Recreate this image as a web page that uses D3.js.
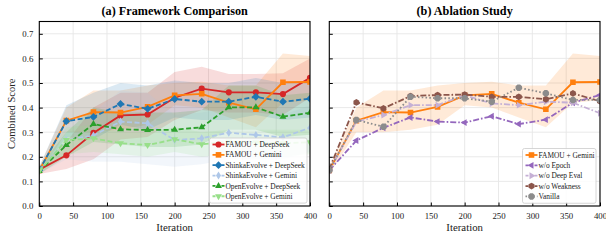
<!DOCTYPE html>
<html>
<head>
<meta charset="utf-8">
<script src="https://cdn.jsdelivr.net/npm/d3@7"></script>
<style>
  body { margin: 0; background: #fff; }
</style>
</head>
<body>
<script>
// iterations shared by every series
var iterations = [0, 40, 80, 120, 160, 200, 240, 280, 320, 360, 400];
var xTicks = [0, 50, 100, 150, 200, 250, 300, 350, 400];
var yTicks = [0.0, 0.1, 0.2, 0.3, 0.4, 0.5, 0.6, 0.7];

// (a) framework comparison
var famouDeepSeek   = [0.148, 0.206, 0.297, 0.368, 0.372, 0.440, 0.477, 0.462, 0.462, 0.455, 0.521];
var famouGemini     = [0.145, 0.347, 0.382, 0.380, 0.403, 0.450, 0.456, 0.420, 0.393, 0.503, 0.504];
var shinkaDeepSeek  = [0.145, 0.345, 0.362, 0.415, 0.395, 0.435, 0.424, 0.424, 0.444, 0.424, 0.436];
var shinkaGemini    = [0.145, 0.268, 0.287, 0.343, 0.336, 0.268, 0.275, 0.298, 0.289, 0.279, 0.318];
var openDeepSeek    = [0.142, 0.248, 0.333, 0.312, 0.309, 0.310, 0.320, 0.401, 0.401, 0.363, 0.379];
var openGemini      = [0.142, 0.268, 0.275, 0.255, 0.248, 0.271, 0.251, 0.262, 0.258, 0.255, 0.259];

// shaded ranges
var famouDeepSeekLo  = [0.13, 0.15, 0.19, 0.27, 0.28, 0.35, 0.39, 0.38, 0.38, 0.37, 0.44];
var famouDeepSeekHi  = [0.16, 0.26, 0.40, 0.46, 0.46, 0.545, 0.566, 0.537, 0.537, 0.54, 0.60];
var famouGeminiLo    = [0.13, 0.30, 0.30, 0.31, 0.33, 0.41, 0.40, 0.36, 0.32, 0.42, 0.43];
var famouGeminiHi    = [0.16, 0.40, 0.47, 0.47, 0.49, 0.50, 0.505, 0.49, 0.49, 0.62, 0.61];
var shinkaDeepSeekLo = [0.13, 0.28, 0.27, 0.33, 0.31, 0.36, 0.35, 0.35, 0.37, 0.35, 0.36];
var shinkaDeepSeekHi = [0.16, 0.41, 0.46, 0.50, 0.49, 0.51, 0.50, 0.50, 0.52, 0.50, 0.51];
var shinkaGeminiLo   = [0.13, 0.19, 0.18, 0.18, 0.17, 0.16, 0.17, 0.19, 0.19, 0.19, 0.22];
var shinkaGeminiHi   = [0.16, 0.34, 0.38, 0.47, 0.46, 0.37, 0.38, 0.40, 0.39, 0.37, 0.41];
var openDeepSeekLo   = [0.13, 0.20, 0.26, 0.25, 0.24, 0.24, 0.25, 0.31, 0.31, 0.28, 0.29];
var openDeepSeekHi   = [0.16, 0.30, 0.40, 0.38, 0.38, 0.38, 0.39, 0.49, 0.49, 0.45, 0.46];
var openGeminiLo     = [0.13, 0.21, 0.22, 0.21, 0.20, 0.22, 0.20, 0.21, 0.21, 0.20, 0.21];
var openGeminiHi     = [0.16, 0.32, 0.33, 0.30, 0.30, 0.32, 0.30, 0.31, 0.31, 0.31, 0.31];

// (b) ablation study
var woEpoch     = [0.145, 0.266, 0.318, 0.360, 0.343, 0.339, 0.365, 0.333, 0.351, 0.420, 0.451];
var woDeepEval  = [0.145, 0.343, 0.370, 0.410, 0.410, 0.450, 0.417, 0.410, 0.424, 0.420, 0.377];
var woWeakness  = [0.150, 0.421, 0.397, 0.447, 0.451, 0.453, 0.444, 0.444, 0.434, 0.458, 0.426];
var vanilla     = [0.145, 0.350, 0.322, 0.444, 0.438, 0.438, 0.424, 0.481, 0.458, 0.431, 0.431];

var width = 606, height = 241;
var serif = "'Liberation Serif'";

var svg = d3.select("body").append("svg")
  .attr("width", width)
  .attr("height", height)
  .style("font-family", serif);

// marker shapes
function poly(n, r, rot) {
  var pts = [];
  for (var i = 0; i < n; i++) {
    var a = rot + i * 2 * Math.PI / n;
    pts.push([r * Math.cos(a), r * Math.sin(a)]);
  }
  return "M" + pts.map(function(p) { return p[0].toFixed(2) + "," + p[1].toFixed(2); }).join("L") + "Z";
}
var shapes = {
  circle: d3.symbol().type(d3.symbolCircle).size(30)(),
  square: "M-2.8,-2.8L2.8,-2.8L2.8,2.8L-2.8,2.8Z",
  diamond: "M0,-3.9L3.9,0L0,3.9L-3.9,0Z",
  thindiamond: "M0,-4L2.5,0L0,4L-2.5,0Z",
  up: poly(3, 4, -Math.PI / 2),
  down: poly(3, 4, Math.PI / 2),
  left: poly(3, 4, Math.PI),
  right: poly(3, 4, 0),
  hexagon: poly(6, 3.4, -Math.PI / 2),
  octagon: poly(8, 3.5, Math.PI / 8)
};

var dashes = {
  solid: null,
  dashed: "5,2.5",
  dashdot: "6,2,1.6,2",
  dotted: "1.6,2.2"
};

var seriesA = [
  {name: "FAMOU + DeepSeek", values: famouDeepSeek, lo: famouDeepSeekLo, hi: famouDeepSeekHi, color: "#d62728", dash: "solid", marker: "circle"},
  {name: "FAMOU + Gemini", values: famouGemini, lo: famouGeminiLo, hi: famouGeminiHi, color: "#ff7f0e", dash: "solid", marker: "square"},
  {name: "ShinkaEvolve + DeepSeek", values: shinkaDeepSeek, lo: shinkaDeepSeekLo, hi: shinkaDeepSeekHi, color: "#1f77b4", dash: "dashed", marker: "diamond"},
  {name: "ShinkaEvolve + Gemini", values: shinkaGemini, lo: shinkaGeminiLo, hi: shinkaGeminiHi, color: "#aec7e8", dash: "dashed", marker: "thindiamond"},
  {name: "OpenEvolve + DeepSeek", values: openDeepSeek, lo: openDeepSeekLo, hi: openDeepSeekHi, color: "#2ca02c", dash: "dashed", marker: "up"},
  {name: "OpenEvolve + Gemini", values: openGemini, lo: openGeminiLo, hi: openGeminiHi, color: "#98df8a", dash: "dashed", marker: "down"}
];

var seriesB = [
  {name: "FAMOU + Gemini", values: famouGemini, lo: famouGeminiLo, hi: famouGeminiHi, color: "#ff7f0e", dash: "solid", marker: "square"},
  {name: "w/o Epoch", values: woEpoch, color: "#9467bd", dash: "dashdot", marker: "left"},
  {name: "w/o Deep Eval", values: woDeepEval, color: "#c5b0d5", dash: "dashdot", marker: "right"},
  {name: "w/o Weakness", values: woWeakness, color: "#8c564b", dash: "dashdot", marker: "hexagon"},
  {name: "Vanilla", values: vanilla, color: "#8c8c8c", dash: "dotted", marker: "octagon"}
];

var y = d3.scaleLinear().domain([0, 0.75]).range([206, 21.5]);

function drawPanel(left, right, title, series, showYLabels, legend) {
  var x = d3.scaleLinear().domain([0, 400]).range([left, right]);
  var g = svg.append("g");

  var clipId = "clip" + Math.round(left);
  g.append("clipPath").attr("id", clipId)
    .append("rect")
    .attr("x", left).attr("y", y(0.75))
    .attr("width", right - left).attr("height", y(0) - y(0.75));

  // grid
  g.append("g").selectAll("line").data(xTicks).enter().append("line")
    .attr("x1", function(d) { return x(d); }).attr("x2", function(d) { return x(d); })
    .attr("y1", y(0)).attr("y2", y(0.75))
    .attr("stroke", "#e6e6e6").attr("stroke-width", 0.9);
  g.append("g").selectAll("line").data(yTicks).enter().append("line")
    .attr("x1", left).attr("x2", right)
    .attr("y1", function(d) { return y(d); }).attr("y2", function(d) { return y(d); })
    .attr("stroke", "#e6e6e6").attr("stroke-width", 0.9);

  var plot = g.append("g").attr("clip-path", "url(#" + clipId + ")");

  // bands
  series.forEach(function(s) {
    if (!s.lo) return;
    var area = d3.area()
      .x(function(d, i) { return x(iterations[i]); })
      .y0(function(d, i) { return y(s.lo[i]); })
      .y1(function(d, i) { return y(s.hi[i]); });
    plot.append("path")
      .datum(s.values)
      .attr("d", area)
      .attr("fill", s.color)
      .attr("fill-opacity", 0.16);
  });

  // lines + markers
  var line = d3.line()
    .x(function(d, i) { return x(iterations[i]); })
    .y(function(d) { return y(d); });

  series.forEach(function(s) {
    plot.append("path")
      .datum(s.values)
      .attr("d", line)
      .attr("fill", "none")
      .attr("stroke", s.color)
      .attr("stroke-width", 1.8)
      .attr("stroke-dasharray", dashes[s.dash]);
    plot.append("g").selectAll("path")
      .data(s.values)
      .enter()
    .append("path")
      .attr("d", shapes[s.marker])
      .attr("transform", function(d, i) { return "translate(" + x(iterations[i]) + "," + y(d) + ")"; })
      .attr("fill", s.color);
  });

  // frame
  g.append("rect")
    .attr("x", left).attr("y", y(0.75))
    .attr("width", right - left).attr("height", y(0) - y(0.75))
    .attr("fill", "none").attr("stroke", "#000").attr("stroke-width", 1.1);

  // axes with inward ticks
  var xAxis = d3.axisBottom(x).tickValues(xTicks).tickSize(-3.5).tickPadding(7).tickFormat(d3.format("d"));
  var ax = g.append("g").attr("transform", "translate(0," + y(0) + ")").call(xAxis)
    .attr("font-family", serif);
  ax.select(".domain").remove();
  ax.selectAll("text").attr("font-size", 8.8).attr("fill", "#222").style("font-family", serif);

  var yAxis = d3.axisLeft(y).tickValues(yTicks).tickSize(-3.5).tickPadding(6)
    .tickFormat(showYLabels ? d3.format(".1f") : "");
  var ay = g.append("g").attr("transform", "translate(" + left + ",0)").call(yAxis)
    .attr("font-family", serif);
  ay.select(".domain").remove();
  ay.selectAll("text").attr("font-size", 8.8).attr("fill", "#222").style("font-family", serif);

  g.append("text")
    .attr("x", (left + right) / 2).attr("y", 15)
    .attr("text-anchor", "middle")
    .attr("font-size", 12.2).attr("font-weight", "bold")
    .style("font-family", serif)
    .text(title);

  g.append("text")
    .attr("x", (left + right) / 2).attr("y", 231)
    .attr("text-anchor", "middle")
    .attr("font-size", 10.8)
    .attr("fill", "#222")
    .style("font-family", serif)
    .text("Iteration");

  // legend
  var lg = g.append("g");
  var rowH = 10.35;
  lg.append("rect")
    .attr("x", legend.x).attr("y", legend.y)
    .attr("width", legend.w).attr("height", series.length * rowH + 3)
    .attr("rx", 2)
    .attr("fill", "#fff").attr("fill-opacity", 0.85)
    .attr("stroke", "#cccccc").attr("stroke-width", 0.8);
  var item = lg.selectAll(".item")
    .data(series)
    .enter()
  .append("g")
    .attr("class", "item")
    .attr("transform", function(d, i) { return "translate(" + legend.x + "," + (legend.y + 6.5 + i * rowH) + ")"; });
  item.append("line")
    .attr("x1", 3).attr("x2", 15)
    .attr("stroke", function(d) { return d.color; })
    .attr("stroke-width", 1.8)
    .attr("stroke-dasharray", function(d) { return d.dash === "solid" ? null : (d.dash === "dotted" ? "1.6,2.2" : "3,1.5"); });
  item.append("path")
    .attr("d", function(d) { return shapes[d.marker]; })
    .attr("transform", "translate(9,0)")
    .attr("fill", function(d) { return d.color; });
  item.append("text")
    .attr("x", 16).attr("y", 2.6)
    .attr("font-size", 7.4)
    .attr("fill", "#222")
    .style("font-family", serif)
    .text(function(d) { return d.name; });
}

drawPanel(39.3, 310, "(a) Framework Comparison", seriesA, true, {x: 209.5, y: 138, w: 97.5});
drawPanel(329.3, 600, "(b) Ablation Study", seriesB, false, {x: 522.5, y: 148.5, w: 73.5});

svg.append("text")
  .attr("transform", "translate(15," + ((y(0) + y(0.75)) / 2) + ") rotate(-90)")
  .attr("text-anchor", "middle")
  .attr("font-size", 10.5)
  .attr("fill", "#222")
  .style("font-family", serif)
  .text("Combined Score");
</script>
</body>
</html>
